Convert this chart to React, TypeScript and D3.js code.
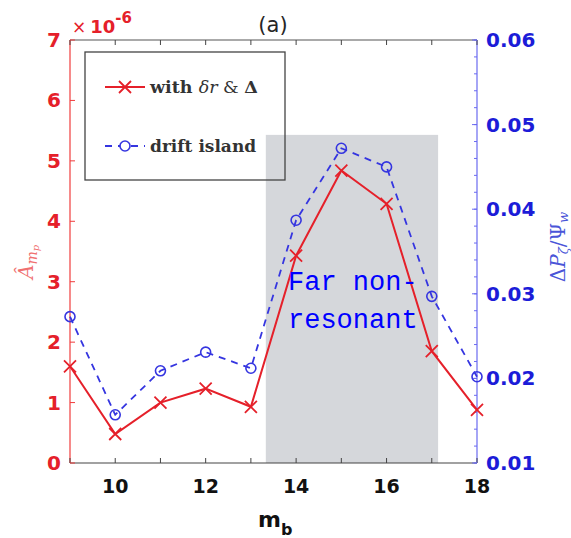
import React from "react";
import * as d3 from "d3";

const mb = [9, 10, 11, 12, 13, 14, 15, 16, 17, 18];
const ampValues = [1.6, 0.48, 1.0, 1.23, 0.93, 3.43, 4.84, 4.29, 1.85, 0.88];
const driftValues = [0.0273, 0.0157, 0.0209, 0.0231, 0.0212, 0.0387, 0.0472, 0.0450, 0.0297, 0.0202];
const leftTicks = [0, 1, 2, 3, 4, 5, 6, 7];
const rightTicks = [0.01, 0.02, 0.03, 0.04, 0.05, 0.06];
const xTicks = [9, 10, 11, 12, 13, 14, 15, 16, 17, 18];
const xLabelTicks = [10, 12, 14, 16, 18];
const shadeRange = [13.33, 17.14];
const shadeTop = 5.43;

const RED = "#e5202a";
const BLUE = "#1c1cd8";

export default function App() {
  const x = d3.scaleLinear().domain([9, 18]).range([70, 477]);
  const yL = d3.scaleLinear().domain([0, 7]).range([463, 40]);
  const yR = d3.scaleLinear().domain([0.01, 0.06]).range([463, 40]);
  const minorR = d3.range(0, 26).map((i) => 0.01 + i * 0.002).filter((v) => v <= 0.0601);

  const redLine = d3.line<number>().x((_, i) => x(mb[i])).y((d) => yL(d))(ampValues) || "";
  const blueLine = d3.line<number>().x((_, i) => x(mb[i])).y((d) => yR(d))(driftValues) || "";

  const cross = (cx: number, cy: number, s: number, key: any) => (
    <path key={key} d={`M${cx - s},${cy - s}L${cx + s},${cy + s}M${cx - s},${cy + s}L${cx + s},${cy - s}`} stroke={RED} strokeWidth={1.8} fill="none" />
  );

  const sans = "DejaVu Sans, sans-serif";
  const serif = "DejaVu Serif, serif";

  return (
    <svg width={571} height={538} style={{ position: "absolute", left: 0, top: 0 }}>
      <rect width={571} height={538} fill="#fff" />
      {/* shaded region */}
      <rect x={x(shadeRange[0])} y={yL(shadeTop)} width={x(shadeRange[1]) - x(shadeRange[0])} height={yL(0) - yL(shadeTop)} fill="#d5d7db" />

      {/* axes frame */}
      <line x1={70} x2={477} y1={40} y2={40} stroke="#555" strokeWidth={1} />
      <line x1={70} x2={477} y1={463} y2={463} stroke="#444" strokeWidth={1.2} />
      <line x1={70} x2={70} y1={40} y2={463} stroke="#f03c3c" strokeWidth={1.2} />
      <line x1={477} x2={477} y1={40} y2={463} stroke="#6a6af0" strokeWidth={1.2} />

      {/* x ticks */}
      {xTicks.map((t) => (
        <g key={"xt" + t}>
          <line x1={x(t)} x2={x(t)} y1={463} y2={458} stroke="#444" strokeWidth={1} />
          <line x1={x(t)} x2={x(t)} y1={40} y2={45} stroke="#444" strokeWidth={1} />
        </g>
      ))}
      {xLabelTicks.map((t) => (
        <text key={"xl" + t} x={x(t)} y={493} textAnchor="middle" fontFamily={sans} fontWeight="bold" fontSize={19} fill="#111">{t}</text>
      ))}

      {/* left ticks */}
      {leftTicks.map((t) => (
        <g key={"lt" + t}>
          <line x1={70} x2={75} y1={yL(t)} y2={yL(t)} stroke="#f03c3c" strokeWidth={1} />
          <text x={61} y={yL(t) + 7} textAnchor="end" fontFamily={sans} fontWeight="bold" fontSize={20} fill={RED}>{t}</text>
        </g>
      ))}

      {/* right ticks */}
      {minorR.map((t, i) => (
        <line key={"rm" + i} x1={477} x2={474} y1={yR(t)} y2={yR(t)} stroke="#6a6af0" strokeWidth={1} />
      ))}
      {rightTicks.map((t) => (
        <g key={"rt" + t}>
          <line x1={477} x2={472} y1={yR(t)} y2={yR(t)} stroke="#6a6af0" strokeWidth={1} />
          <text x={486} y={yR(t) + 7} textAnchor="start" fontFamily={sans} fontWeight="bold" fontSize={20} fill={BLUE}>{t.toFixed(2)}</text>
        </g>
      ))}

      {/* exponent */}
      <text x={72} y={33} fontFamily={sans} fill={RED}>
        <tspan fontSize={17}>×</tspan>
        <tspan dx={4} fontSize={18} fontWeight="bold">10</tspan>
        <tspan dy={-10} fontSize={15} fontWeight="bold">-6</tspan>
      </text>

      {/* title */}
      <text x={273} y={32} textAnchor="middle" fontFamily={sans} fontSize={21} fill="#262626">(a)</text>

      {/* series */}
      <path d={blueLine} fill="none" stroke="#3535e0" strokeWidth={1.8} strokeDasharray="7,6" />
      <path d={redLine} fill="none" stroke={RED} strokeWidth={2} />
      {driftValues.map((v, i) => (
        <circle key={"c" + i} cx={x(mb[i])} cy={yR(v)} r={5} fill="none" stroke="#3535e0" strokeWidth={1.6} />
      ))}
      {ampValues.map((v, i) => cross(x(mb[i]), yL(v), 6, "x" + i))}

      {/* annotation */}
      <text x={288} y={290} fontFamily="Liberation Mono, monospace" fontSize={27} fill="#0000ff">Far non-</text>
      <text x={288} y={328} fontFamily="Liberation Mono, monospace" fontSize={27} fill="#0000ff">resonant</text>

      {/* legend */}
      <rect x={85} y={52} width={200} height={128} fill="none" stroke="#444" strokeWidth={1.3} />
      <line x1={105} x2={145} y1={87} y2={87} stroke={RED} strokeWidth={2} />
      {cross(125, 87, 6, "lg1")}
      <text x={150} y={93} fontFamily={serif} fontSize={17.5} fill="#333">
        <tspan fontWeight="bold">with </tspan>
        <tspan fontStyle="italic">δr</tspan>
        <tspan> &amp; </tspan>
        <tspan fontWeight="bold">Δ</tspan>
      </text>
      <line x1={105} x2={145} y1={146} y2={146} stroke="#3535e0" strokeWidth={1.8} strokeDasharray="7,6" />
      <circle cx={125} cy={146} r={5} fill="#fff" stroke="#3535e0" strokeWidth={1.6} />
      <text x={150} y={152} fontFamily={serif} fontSize={17} fontWeight="bold" fill="#333">drift island</text>

      {/* y labels */}
      <text transform="translate(33,262) rotate(-90)" textAnchor="middle" fontFamily={serif} fontSize={20} fill="#f07070">
        <tspan fontStyle="italic">Â</tspan>
        <tspan fontStyle="italic" fontSize={14} dy={4}>m</tspan>
        <tspan fontStyle="italic" fontSize={10} dy={2}>p</tspan>
      </text>
      <text transform="translate(565,247) rotate(-90)" textAnchor="middle" fontFamily={serif} fontSize={20} fill="#4a55d8">
        <tspan>Δ</tspan>
        <tspan fontStyle="italic">P</tspan>
        <tspan fontStyle="italic" fontSize={13} dy={3}>ζ</tspan>
        <tspan dy={-3}>/Ψ</tspan>
        <tspan fontStyle="italic" fontSize={13} dy={3}>w</tspan>
      </text>

      {/* x label */}
      <text x={258} y={527} fontFamily={sans} fontWeight="bold" fontSize={22} fill="#111">
        <tspan>m</tspan>
        <tspan fontSize={16} dy={8}>b</tspan>
      </text>
    </svg>
  );
}
